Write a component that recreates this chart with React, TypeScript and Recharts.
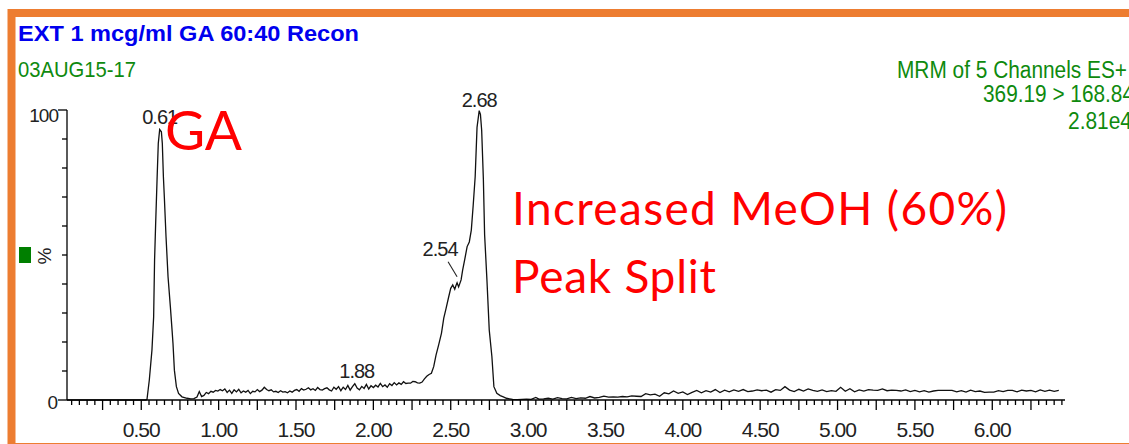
import React from 'react';
import { LineChart, Line, XAxis, YAxis, ReferenceDot } from 'recharts';

// ---- Data: retention time (min) vs relative abundance (%) ----
const leadIn: [number, number][] = [
  [0.02, 0], [0.2, 0], [0.4, 0], [0.53, 0],
];

const gaPeak: [number, number][] = [
  [0.537, 0.2], [0.552, 6.9], [0.569, 17.2], [0.58, 28.7], [0.586, 48.3], [0.593, 60.9],
  [0.602, 75.9], [0.61, 88.5], [0.619, 93.3], [0.63, 92.5], [0.636, 88.5], [0.643, 77],
  [0.649, 70.1], [0.66, 56.3], [0.673, 42.5], [0.688, 32.2], [0.699, 24.1], [0.705, 19.5],
  [0.714, 10.3], [0.727, 4.6], [0.741, 2.3], [0.763, 1.1], [0.796, 0.6],
];

const midBaseline: [number, number][] = [
  [0.82, 0.4], [0.84, 0.5], [0.86, 1.0], [0.875, 2.9], [0.89, 1.2], [0.905, 1.6], [0.92, 2.6],
  [0.935, 2.2], [0.95, 3.0], [0.965, 2.7], [0.98, 3.3], [0.995, 3.1], [1.01, 3.6], [1.025, 3.2],
  [1.04, 3.8], [1.055, 2.6], [1.07, 3.4], [1.085, 2.3], [1.1, 3.5], [1.115, 2.8], [1.13, 3.7],
  [1.145, 2.5], [1.16, 3.1], [1.175, 2.7], [1.19, 3.3], [1.205, 2.2], [1.22, 3.0], [1.235, 2.8],
  [1.25, 3.6], [1.265, 2.9], [1.28, 3.4], [1.295, 4.4], [1.31, 3.6], [1.325, 3.2], [1.34, 3.5],
  [1.355, 2.8], [1.37, 3.0], [1.385, 2.6], [1.4, 3.2], [1.415, 2.7], [1.43, 2.9], [1.445, 2.5],
  [1.46, 3.1], [1.475, 2.7], [1.49, 3.3], [1.505, 3.6], [1.52, 3.0], [1.535, 3.9], [1.55, 3.4],
  [1.565, 3.7], [1.58, 4.2], [1.595, 3.5], [1.61, 3.9], [1.625, 3.3], [1.64, 4.3], [1.655, 3.6],
  [1.67, 3.4], [1.685, 3.9], [1.7, 4.2], [1.715, 3.5], [1.73, 3.1], [1.745, 4.4], [1.76, 3.7],
  [1.775, 4.6], [1.79, 3.2], [1.805, 4.4], [1.82, 3.6], [1.835, 5.0], [1.85, 3.4], [1.865, 4.6],
  [1.88, 5.6], [1.895, 4.1], [1.91, 3.5], [1.925, 4.7], [1.94, 4.0], [1.955, 5.4], [1.97, 3.8],
  [1.985, 4.9], [2.0, 4.3], [2.015, 5.1], [2.03, 4.5], [2.045, 5.7], [2.06, 4.6], [2.075, 5.2],
  [2.09, 4.4], [2.105, 5.6], [2.12, 5.0], [2.135, 6.0], [2.15, 5.2], [2.165, 5.9], [2.18, 5.4],
  [2.195, 6.3], [2.21, 5.7], [2.225, 5.8], [2.24, 5.8], [2.255, 6.4], [2.27, 6.3], [2.285, 5.9],
  [2.3, 5.8], [2.315, 6.2], [2.33, 7.3],
];

const splitPeak: [number, number][] = [
  [2.345, 8.2], [2.36, 8.8], [2.375, 9.2], [2.39, 11.5], [2.405, 15.5], [2.422, 19], [2.44, 23],
  [2.455, 28.2], [2.47, 31.6], [2.487, 35.6], [2.5, 38.5], [2.513, 39.7], [2.526, 38.2],
  [2.534, 39.5], [2.541, 40.4], [2.551, 39.0], [2.567, 41.4], [2.577, 44.8], [2.59, 48.3],
  [2.606, 52.9], [2.62, 54.5], [2.633, 58.6], [2.645, 67], [2.658, 77], [2.67, 94],
  [2.684, 99.8], [2.692, 98.5], [2.7, 93], [2.711, 76], [2.719, 57], [2.734, 41.4],
  [2.749, 24.1], [2.766, 15], [2.779, 4.6], [2.798, 2.3], [2.82, 1.5], [2.84, 1.1], [2.86, 0.6],
];

const tail: [number, number][] = [
  [2.88, 0.4], [2.9, 0.2], [2.93, 0.1], [2.96, 0.2], [2.99, 0.3], [3.02, 0.2], [3.05, 0.9],
  [3.07, 0.3], [3.1, 0.4], [3.13, 0.6], [3.16, 0.3], [3.19, 0.8], [3.22, 0.5], [3.25, 0.4],
  [3.28, 0.9], [3.31, 0.5], [3.34, 0.7], [3.37, 0.6], [3.4, 1.2], [3.43, 0.7], [3.46, 0.9],
  [3.49, 1.3], [3.52, 1.0], [3.55, 1.1], [3.58, 1.0], [3.61, 1.2], [3.64, 1.1], [3.67, 1.4],
  [3.7, 1.3], [3.73, 1.2], [3.76, 2.2], [3.79, 1.8], [3.82, 2.0], [3.85, 1.3], [3.88, 2.5],
  [3.91, 2.1], [3.94, 3.1], [3.97, 2.3], [4.0, 2.8], [4.03, 1.9], [4.06, 2.6], [4.09, 3.3],
  [4.12, 2.5], [4.15, 3.2], [4.18, 2.7], [4.21, 3.6], [4.24, 2.6], [4.27, 3.4], [4.3, 2.8],
  [4.33, 3.5], [4.36, 3.0], [4.39, 3.6], [4.42, 2.9], [4.45, 3.1], [4.48, 3.5], [4.51, 3.2],
  [4.54, 3.4], [4.57, 2.7], [4.6, 3.6], [4.63, 3.3], [4.66, 4.6], [4.69, 3.4], [4.72, 2.9],
  [4.75, 3.7], [4.78, 3.1], [4.81, 3.8], [4.84, 3.3], [4.87, 3.0], [4.9, 3.5], [4.93, 2.9],
  [4.96, 3.2], [4.99, 3.0], [5.02, 4.4], [5.05, 3.0], [5.08, 3.9], [5.11, 2.8], [5.14, 3.5],
  [5.17, 3.1], [5.2, 3.6], [5.23, 3.4], [5.26, 3.3], [5.29, 3.8], [5.32, 3.2], [5.35, 3.4],
  [5.38, 3.3], [5.41, 3.1], [5.44, 3.5], [5.47, 2.9], [5.5, 3.3], [5.53, 2.8], [5.56, 3.2],
  [5.59, 2.7], [5.62, 3.1], [5.65, 3.3], [5.68, 3.3], [5.71, 3.3], [5.74, 3.3], [5.77, 2.8],
  [5.8, 3.2], [5.83, 2.7], [5.86, 3.4], [5.89, 2.9], [5.92, 3.1], [5.95, 2.6], [5.98, 2.7],
  [6.01, 2.7], [6.04, 3.2], [6.07, 2.9], [6.1, 3.3], [6.13, 3.3], [6.16, 2.8], [6.19, 3.4],
  [6.22, 3.1], [6.25, 3.3], [6.28, 2.8], [6.31, 3.5], [6.34, 3.0], [6.37, 3.4], [6.4, 3.0],
  [6.43, 3.3],
];

// peak annotations (retention time label, apex time, apex value)
const peakTimes = [0.619, 1.88, 2.541, 2.684];
const peakValues = [93.3, 5.6, 40.4, 99.8];
const peakTexts = ['0.61', '1.88', '2.54', '2.68'];

// axis ticks
const majorTickValues = [0.5, 1.0, 1.5, 2.0, 2.5, 3.0, 3.5, 4.0, 4.5, 5.0, 5.5, 6.0];
const majorTickLabels = ['0.50', '1.00', '1.50', '2.00', '2.50', '3.00', '3.50', '4.00', '4.50', '5.00', '5.50', '6.00'];
const yTickValues = [0, 10, 20, 30, 40, 50, 60, 70, 80, 90, 100];
const yTickLabels: Record<number, string> = { 0: '0', 100: '100' };

const chartData = [...leadIn, ...gaPeak, ...midBaseline, ...splitPeak, ...tail].map(([t, v]) => ({ t, v }));

const xTicks: number[] = [];
for (let i = 1; i <= 129; i++) xTicks.push(Math.round(i * 5) / 100);

const AXIS_FONT = '"Liberation Sans", Arial, sans-serif';

const XTick = (props: any) => {
  const { x, y, payload } = props;
  const h = Math.round(payload.value * 100);
  const major = h % 25 === 0;
  const idx = majorTickValues.findIndex((m) => Math.round(m * 100) === h);
  return (
    <g>
      <line x1={x} x2={x} y1={y} y2={y + (major ? 10 : 5)} stroke="#000" strokeWidth={1.3} />
      {idx >= 0 && (
        <text x={x} y={y + 37} textAnchor="middle" fontFamily={AXIS_FONT} fontSize={21} letterSpacing={-1} fill="#222">
          {majorTickLabels[idx]}
        </text>
      )}
    </g>
  );
};

const YTick = (props: any) => {
  const { x, y, payload } = props;
  const v = payload.value;
  const label = yTickLabels[v];
  return (
    <g>
      <line x1={x - (v === 0 || v === 100 ? 9 : 5)} x2={x} y1={y} y2={y} stroke="#000" strokeWidth={1.3} />
      {label && (
        <text x={v === 100 ? x - 9 : x - 10} y={v === 100 ? y + 12 : y + 9} textAnchor="end" fontFamily={AXIS_FONT} fontSize={19} letterSpacing={-1} fill="#222">
          {label}
        </text>
      )}
    </g>
  );
};

const makePeakShape = (text: string, i: number) => (p: any) => {
  const { cx, cy } = p;
  if (text === '2.54') {
    return (
      <g>
        <line x1={cx - 9} y1={cy - 21} x2={cx} y2={cy - 6} stroke="#222" strokeWidth={1.1} />
        <text x={cx - 17} y={cy - 27} textAnchor="middle" fontFamily={AXIS_FONT} fontSize={20} letterSpacing={-1} fill="#222">{text}</text>
      </g>
    );
  }
  const dy = text === '1.88' ? 6 : text === '2.68' ? 4 : 5;
  const dx = text === '1.88' ? 2 : 0;
  return (
    <text key={i} x={cx + dx} y={cy - dy} textAnchor="middle" fontFamily={AXIS_FONT} fontSize={20} letterSpacing={-1} fill="#222">{text}</text>
  );
};

export default function App() {
  return (
    <div style={{ position: 'absolute', left: 0, top: 0, width: 1129, height: 444, background: '#fff', overflow: 'hidden' }}>
      <div style={{ position: 'absolute', left: 0, top: 0 }}>
        <LineChart width={1129} height={444} data={chartData} margin={{ top: 110, right: 64, bottom: 0, left: 0 }}>
          <XAxis
            dataKey="t"
            type="number"
            domain={[0.02, 6.47]}
            allowDataOverflow
            ticks={xTicks}
            interval={0}
            tick={<XTick />}
            tickLine={false}
            tickSize={0}
            tickMargin={0}
            height={44}
            axisLine={{ stroke: '#000', strokeWidth: 1.6 }}
          />
          <YAxis
            type="number"
            domain={[0, 100]}
            ticks={yTickValues}
            interval={0}
            tick={<YTick />}
            tickLine={false}
            tickSize={0}
            tickMargin={0}
            width={67}
            axisLine={{ stroke: '#000', strokeWidth: 1.3 }}
          />
          <Line type="linear" dataKey="v" stroke="#111" strokeWidth={1.3} dot={false} isAnimationActive={false} />
          {peakTimes.map((t, i) => (
            <ReferenceDot key={i} x={t} y={peakValues[i]} r={0} ifOverflow="visible" shape={makePeakShape(peakTexts[i], i)} />
          ))}
        </LineChart>
      </div>
      <svg width={1129} height={444} style={{ position: 'absolute', left: 0, top: 0, pointerEvents: 'none' }}>
        <rect x={11.5} y={13} width={1200} height={434} fill="none" stroke="#ED7D31" strokeWidth={8} />
        <text x={18} y={41} fontFamily={AXIS_FONT} fontWeight="bold" fontSize={22} fill="#0000EE" textLength={341} lengthAdjust="spacingAndGlyphs">
          EXT 1 mcg/ml  GA 60:40 Recon
        </text>
        <text x={18} y={77} fontFamily={AXIS_FONT} fontSize={22} fill="#0E8A0E" textLength={118} lengthAdjust="spacingAndGlyphs">
          03AUG15-17
        </text>
        <text x={897} y={78} fontFamily={AXIS_FONT} fontSize={23} fill="#0E8A0E" textLength={230} lengthAdjust="spacingAndGlyphs">
          MRM of 5 Channels ES+
        </text>
        <text x={983} y={102} fontFamily={AXIS_FONT} fontSize={23} fill="#0E8A0E" textLength={151} lengthAdjust="spacingAndGlyphs">
          369.19 &gt; 168.84
        </text>
        <text x={1068} y={129} fontFamily={AXIS_FONT} fontSize={23} fill="#0E8A0E" textLength={64} lengthAdjust="spacingAndGlyphs">
          2.81e4
        </text>
        <rect x={19} y={247} width={12} height={16} fill="#007F00" />
        <text x={51} y={256} transform="rotate(-90 51 256)" textAnchor="middle" fontFamily={AXIS_FONT} fontSize={19} fill="#222">%</text>
        <text x={165} y={150} fontFamily="Lato, sans-serif" fontSize={55} fill="#FF0000">GA</text>
        <text x={512} y={225} fontFamily="Lato, sans-serif" fontSize={46} fill="#FF0000" textLength={495} lengthAdjust="spacing">
          Increased MeOH (60%)
        </text>
        <text x={512} y={293} fontFamily="Lato, sans-serif" fontSize={46} fill="#FF0000" textLength={204} lengthAdjust="spacing">
          Peak Split
        </text>
      </svg>
    </div>
  );
}
